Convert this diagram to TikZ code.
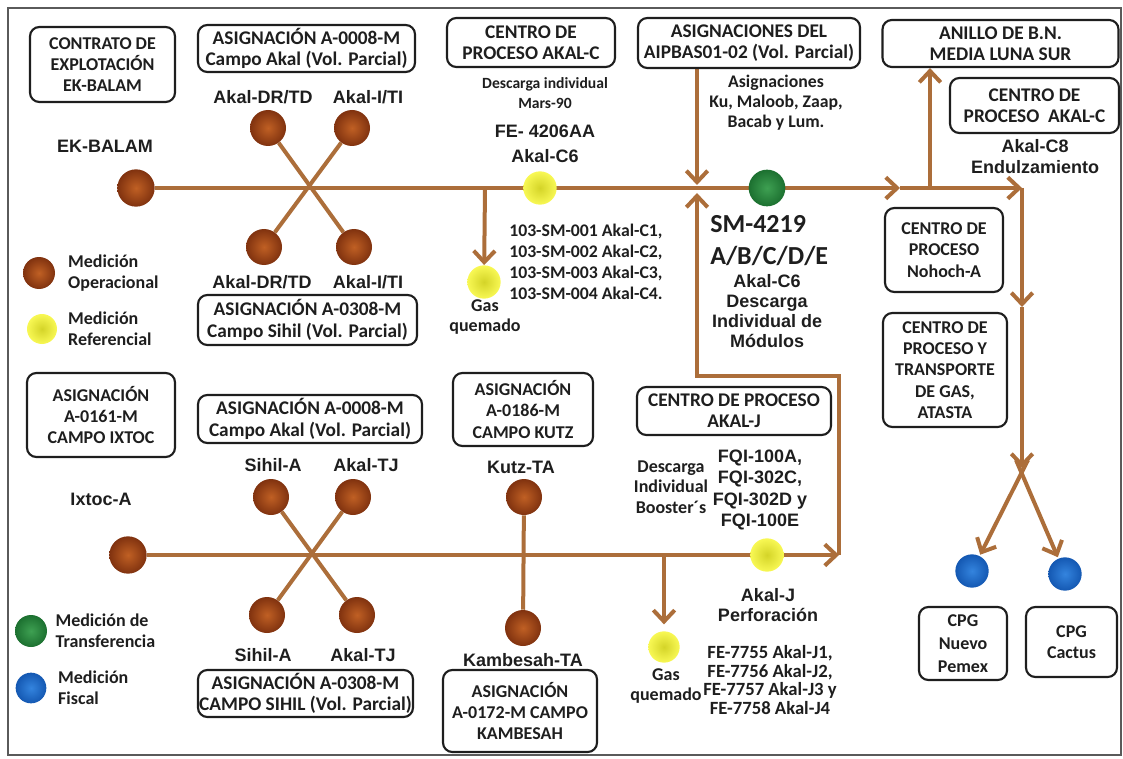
\documentclass[tikz,border=0pt]{standalone}
\usepackage{fontspec}
\setmainfont{Carlito}
\newfontfamily\arialfont{Liberation Sans}
\usetikzlibrary{positioning, arrows.meta}

\definecolor{pipebrown}{RGB}{172,110,58}
\definecolor{ink}{RGB}{30,30,30}
\definecolor{framegray}{RGB}{90,90,90}
\definecolor{opin}{RGB}{192,96,36}
\definecolor{opout}{RGB}{128,50,15}
\definecolor{refin}{RGB}{212,212,40}
\definecolor{refout}{RGB}{248,248,84}
\definecolor{trin}{RGB}{62,160,82}
\definecolor{trout}{RGB}{28,112,48}
\definecolor{fiin}{RGB}{52,132,222}
\definecolor{fiout}{RGB}{20,88,178}

\pgfdeclarelayer{pipes}
\pgfsetlayers{pipes,main}

\tikzset{
  box/.style={draw=ink, line width=1.6pt, rounded corners=7pt, align=center,
    inner sep=0pt, text=ink, font=\bfseries\fontsize{13.5}{16}\selectfont},
  widebox/.style={box, font=\bfseries\fontsize{14.5}{16}\selectfont},
  lbl/.style={text=ink, align=center, inner sep=0pt,
    font=\arialfont\bfseries\fontsize{13.5}{15}\selectfont},
  note/.style={text=ink, align=center, inner sep=0pt,
    font=\bfseries\fontsize{13.5}{15.5}\selectfont},
  sphere/.style={circle, inner sep=0pt},
  opball/.style={sphere, minimum size=28pt, inner color=opin, outer color=opout},
  refball/.style={sphere, minimum size=25pt, inner color=refin, outer color=refout},
  trball/.style={sphere, minimum size=27.5pt, inner color=trin, outer color=trout},
  fiball/.style={sphere, minimum size=25pt, inner color=fiin, outer color=fiout},
  pipe/.style={draw=pipebrown, line width=3pt},
  flow/.style={pipe, -{Straight Barb[length=8.5pt, width=16pt]}},
}

\begin{document}
\begin{tikzpicture}[x=0.75pt, y=-0.75pt]
  \useasboundingbox (0,0) rectangle (1123,759);
  \draw[framegray, line width=1.2pt] (8,8) rectangle (1121,755);

  % boxes, upper half
  \node[box, minimum width=108.75pt, minimum height=56.25pt] (contrato) at (102.5,64.5) {CONTRATO DE\\EXPLOTACIÓN\\EK-BALAM};
  \node[widebox, minimum width=162.75pt, minimum height=35.25pt] (asigAkalTop) at (306.5,48.5) {ASIGNACIÓN A-0008-M\\Campo Akal (Vol. Parcial)};
  \node[widebox, minimum width=164.25pt, minimum height=37.5pt] (asigSihilTop) at (307.5,320) {ASIGNACIÓN A-0308-M\\Campo Sihil (Vol. Parcial)};
  \node[widebox, minimum width=126pt, minimum height=36.75pt] (centroC) at (531,42.5) {CENTRO DE\\PROCESO AKAL-C};
  \node[widebox, minimum width=166.5pt, minimum height=37.5pt] (aipbas) at (749,43) {ASIGNACIONES DEL\\AIPBAS01-02 (Vol. Parcial)};
  \node[widebox, minimum width=177pt, minimum height=35.25pt] (anillo) at (1000.5,43.5) {ANILLO DE B.N.\\MEDIA LUNA SUR};
  \node[widebox, minimum width=126.75pt, minimum height=41.25pt] (centroC8) at (1034.5,105.5) {CENTRO DE\\PROCESO\ \ AKAL-C};
  \node[box, minimum width=88.5pt, minimum height=63pt] (nohoch) at (944,250) {CENTRO DE\\PROCESO\\Nohoch-A};
  \node[box, minimum width=93pt, minimum height=85.5pt] (atasta) at (945,370) {CENTRO DE\\PROCESO Y\\TRANSPORTE\\DE GAS,\\ATASTA};
  \node[box, minimum width=66pt, minimum height=54.75pt, font=\bfseries\fontsize{13.5}{17}\selectfont] (nuevo) at (963,643.5) {CPG\\Nuevo\\Pemex};
  \node[box, minimum width=68.25pt, minimum height=52.5pt] (cactus) at (1071.5,642) {CPG\\Cactus};

  % boxes, lower half
  \node[box, minimum width=111pt, minimum height=63pt] (ixtocBox) at (101,415) {ASIGNACIÓN\\A-0161-M\\CAMPO IXTOC};
  \node[widebox, minimum width=168pt, minimum height=36pt] (asigAkalBot) at (310,419) {ASIGNACIÓN A-0008-M\\Campo Akal (Vol. Parcial)};
  \node[widebox, minimum width=161.25pt, minimum height=35.25pt] (asigSihilBot) at (305.5,693.5) {ASIGNACIÓN A-0308-M\\CAMPO SIHIL (Vol. Parcial)};
  \node[box, minimum width=105pt, minimum height=54.75pt] (kutzBox) at (523,409.5) {ASIGNACIÓN\\A-0186-M\\CAMPO KUTZ};
  \node[box, minimum width=115.5pt, minimum height=61.5pt] (kambBox) at (520,711) {ASIGNACIÓN\\A-0172-M CAMPO\\KAMBESAH};
  \node[widebox, minimum width=145.5pt, minimum height=36pt] (akalJBox) at (734,411) {CENTRO DE PROCESO\\AKAL-J};

  % measuring points
  \node[opball] (ek) at (136,188) {};
  \node[opball, minimum size=27pt] (akDRt) at (268,128) {};
  \node[opball, minimum size=27pt] (akITt) at (352,128) {};
  \node[opball, minimum size=27pt] (akDRb) at (264,247) {};
  \node[opball, minimum size=27pt] (akITb) at (354,247) {};
  \node[refball] (yC6) at (540,188) {};
  \node[refball] (gasT) at (484,282) {};
  \node[trball] (smG) at (767,188) {};
  \node[fiball] (blueN) at (972,571) {};
  \node[fiball] (blueC) at (1065,574) {};
  \node[opball] (ix) at (128,555) {};
  \node[opball, minimum size=27pt] (sihilT) at (271,497) {};
  \node[opball, minimum size=27pt] (akTJt) at (353,497) {};
  \node[opball, minimum size=27pt] (sihilB) at (267,615) {};
  \node[opball, minimum size=27pt] (akTJb) at (357,615) {};
  \node[opball, minimum size=27pt] (kutz) at (524,497) {};
  \node[opball, minimum size=27pt] (kamb) at (523,628) {};
  \node[refball, minimum size=23.5pt] (gasB) at (664,647) {};
  \node[refball] (yJ) at (767,555) {};

  % junctions
  \coordinate (gasJ) at (485,188);
  \coordinate (aipJ) at (697,185);
  \coordinate (aipUp) at (697,193);
  \coordinate (arrA) at (900,188);
  \coordinate (anilJ) at (930,188);
  \coordinate (turnR) at (1022,188);
  \coordinate (downA) at (1022,307);
  \coordinate (split) at (1022,468);
  \coordinate (splitL) at (1028,460);
  \coordinate (splitR) at (1016,460);
  \coordinate (gasJb) at (664,555);
  \coordinate (endR) at (839,555);
  \coordinate (retR) at (839,376);
  \coordinate (retL) at (697,376);

  \begin{pgfonlayer}{pipes}
    \draw[flow] (ek) -- (arrA);
    \draw[flow] (arrA) -- (turnR);
    \draw[flow] (anilJ) -- (anillo.south -| anilJ);
    \draw[flow] (turnR) -- (downA);
    \draw[flow] (downA) -- (split);
    \draw[flow, shorten >=1pt] (splitL) -- (blueN);
    \draw[flow, shorten >=1pt] (splitR) -- (blueC);
    \draw[pipe] (akDRt) -- (akITb);
    \draw[pipe] (akITt) -- (akDRb);
    \draw[flow] (gasJ) -- (gasT);
    \draw[flow] (aipbas.south -| aipJ) -- (aipJ);
    \draw[flow] (ix) -- (endR);
    \draw[flow] (endR) -- (retR) -- (retL) -- (aipUp);
    \draw[pipe] (sihilT) -- (akTJb);
    \draw[pipe] (akTJt) -- (sihilB);
    \draw[pipe] (kutz) -- (kamb);
    \draw[flow, shorten >=5pt] (gasJb) -- (gasB);
  \end{pgfonlayer}

  % labels
  \node[lbl] at (105,146) {EK-BALAM};
  \node[lbl] at (263,97) {Akal-DR/TD};
  \node[lbl] at (368,97) {Akal-I/TI};
  \node[lbl] at (262,282) {Akal-DR/TD};
  \node[lbl] at (368,282) {Akal-I/TI};
  \node[note, font=\bfseries\fontsize{11.7}{15}\selectfont] at (545,93) {Descarga individual\\Mars-90};
  \node[lbl, font=\arialfont\bfseries\fontsize{13.5}{18.75}\selectfont] at (545,144) {FE- 4206AA\\Akal-C6};
  \node[note, anchor=west, align=left, font=\bfseries\fontsize{13.3}{15.75}\selectfont] at (509,262) {103-SM-001 Akal-C1,\\103-SM-002 Akal-C2,\\103-SM-003 Akal-C3,\\103-SM-004 Akal-C4.};
  \node[note] at (485,317) {Gas\\quemado};
  \node[note, font=\bfseries\fontsize{13.3}{15}\selectfont] at (776,103) {Asignaciones\\Ku, Maloob, Zaap,\\Bacab y Lum.};
  \node[note, anchor=west, align=left, font=\bfseries\fontsize{19.5}{24}\selectfont] at (710,241) {SM-4219\\A/B/C/D/E};
  \node[lbl] at (767,311) {Akal-C6\\Descarga\\Individual de\\Módulos};
  \node[lbl, font=\arialfont\bfseries\fontsize{13.5}{15.75}\selectfont] at (1035,157) {Akal-C8\\Endulzamiento};
  \node[lbl] at (101,499) {Ixtoc-A};
  \node[lbl] at (273,465) {Sihil-A};
  \node[lbl] at (366,465) {Akal-TJ};
  \node[lbl] at (263,655) {Sihil-A};
  \node[lbl] at (363,655) {Akal-TJ};
  \node[lbl] at (521,467) {Kutz-TA};
  \node[lbl] at (523,660) {Kambesah-TA};
  \node[note] at (666,686) {Gas\\quemado};
  \node[note] at (671,487) {Descarga\\Individual\\Booster´s};
  \node[lbl, font=\arialfont\bfseries\fontsize{13.5}{16}\selectfont] at (760,490) {FQI-100A,\\FQI-302C,\\FQI-302D y\\FQI-100E};
  \node[lbl] at (768,605) {Akal-J\\Perforación};
  \node[note, font=\bfseries\fontsize{14}{14}\selectfont] at (770,680) {FE-7755 Akal-J1,\\FE-7756 Akal-J2,\\FE-7757 Akal-J3 y\\FE-7758 Akal-J4};

  % legend
  \node[opball, minimum size=24pt] (legOp) at (39,273) {};
  \node[note, align=left, right=9.5pt of legOp] {Medición\\Operacional};
  \node[refball, minimum size=22.5pt] (legRef) at (42,329) {};
  \node[note, align=left, right=8pt of legRef] {Medición\\Referencial};
  \node[trball, minimum size=24pt] (legTr) at (31,631) {};
  \node[note, align=left, right=6pt of legTr] {Medición de\\Transferencia};
  \node[fiball, minimum size=23pt] (legFi) at (31,688) {};
  \node[note, align=left, right=8.5pt of legFi] {Medición\\Fiscal};
\end{tikzpicture}
\end{document}
